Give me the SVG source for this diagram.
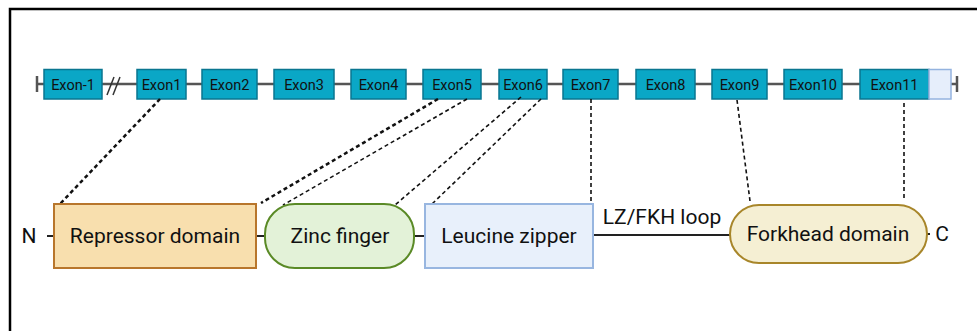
<svg xmlns="http://www.w3.org/2000/svg" width="977" height="331" viewBox="0 0 977 331">
<style>
.exon{fill:#0aa7c6;stroke:#0a7690;stroke-width:1.5}
.et{font-family:Roboto,"Liberation Sans",sans-serif;font-size:14.5px;fill:#111;text-anchor:middle}
.dt{font-family:Roboto,"Liberation Sans",sans-serif;font-size:21px;fill:#111;text-anchor:middle}
.bb{stroke:#555;stroke-width:2.5;fill:none}
.pl{stroke:#222;stroke-width:2;fill:none}
.dthick{stroke:#111;stroke-width:2.5;stroke-dasharray:4 3;fill:none}
.dthin{stroke:#111;stroke-width:1.6;stroke-dasharray:4 3;fill:none}
</style>
<rect width="977" height="331" fill="#fff"/>
<path d="M10 331 V9 H977" fill="none" stroke="#000" stroke-width="2.5"/>

<g id="backbone">
<line class="bb" x1="37" y1="84" x2="957" y2="84"/>
<line class="bb" x1="37" y1="76" x2="37" y2="92"/>
<line class="bb" x1="957" y1="76" x2="957" y2="92"/>
<line x1="107" y1="95" x2="114" y2="77" stroke="#333" stroke-width="1.5"/>
<line x1="113" y1="95" x2="120" y2="77" stroke="#333" stroke-width="1.5"/>
</g>

<g id="exon-m1"><rect class="exon" x="44" y="69.5" width="58" height="29.5"/><text class="et" x="73" y="89.5">Exon-1</text></g>
<g id="exon1"><rect class="exon" x="137" y="69.5" width="49" height="29.5"/><text class="et" x="161.5" y="89.5">Exon1</text></g>
<g id="exon2"><rect class="exon" x="202" y="69.5" width="55" height="29.5"/><text class="et" x="229.5" y="89.5">Exon2</text></g>
<g id="exon3"><rect class="exon" x="274" y="69.5" width="60" height="29.5"/><text class="et" x="304" y="89.5">Exon3</text></g>
<g id="exon4"><rect class="exon" x="351" y="69.5" width="55" height="29.5"/><text class="et" x="378.5" y="89.5">Exon4</text></g>
<g id="exon5"><rect class="exon" x="423" y="69.5" width="58" height="29.5"/><text class="et" x="452" y="89.5">Exon5</text></g>
<g id="exon6"><rect class="exon" x="499" y="69.5" width="48" height="29.5"/><text class="et" x="523" y="89.5">Exon6</text></g>
<g id="exon7"><rect class="exon" x="563" y="69.5" width="55" height="29.5"/><text class="et" x="590.5" y="89.5">Exon7</text></g>
<g id="exon8"><rect class="exon" x="636" y="69.5" width="59" height="29.5"/><text class="et" x="665.5" y="89.5">Exon8</text></g>
<g id="exon9"><rect class="exon" x="712" y="69.5" width="55" height="29.5"/><text class="et" x="739.5" y="89.5">Exon9</text></g>
<g id="exon10"><rect class="exon" x="784" y="69.5" width="58" height="29.5"/><text class="et" x="813" y="89.5">Exon10</text></g>
<g id="exon11"><rect class="exon" x="860" y="69.5" width="69" height="29.5"/><text class="et" x="894.5" y="89.5">Exon11</text></g>
<g id="utr"><rect x="929" y="69.5" width="22" height="29.5" fill="#e6eefb" stroke="#94b3df" stroke-width="1.5"/></g>

<g id="protein-line">
<line class="pl" x1="47" y1="236" x2="54" y2="236"/>
<line class="pl" x1="256" y1="236" x2="266" y2="236"/>
<line class="pl" x1="414" y1="236" x2="425" y2="236"/>
<line class="pl" x1="593" y1="235" x2="730" y2="235"/>
<line class="pl" x1="927" y1="234" x2="930" y2="234"/>
</g>

<g id="connectors">
<line class="dthick" x1="160" y1="99" x2="59" y2="205"/>
<line class="dthick" x1="438" y1="99" x2="261" y2="203"/>
<line class="dthin" x1="467" y1="99" x2="283" y2="205"/>
<line class="dthin" x1="521" y1="97" x2="395" y2="205"/>
<line class="dthin" x1="541" y1="99" x2="432" y2="204"/>
<line class="dthin" x1="591" y1="99" x2="591" y2="204" stroke-width="2"/>
<line class="dthin" x1="737" y1="100" x2="750" y2="201"/>
<line class="dthin" x1="904" y1="103" x2="904" y2="200"/>
</g>

<g id="label-N"><text class="dt" x="29" y="243">N</text></g>
<g id="repressor"><rect x="54" y="204" width="202" height="64" fill="#f8dfae" stroke="#b8762c" stroke-width="2"/><text class="dt" x="155" y="243">Repressor domain</text></g>
<g id="zinc"><rect x="265" y="204" width="149" height="64" rx="30" fill="#e3f2d8" stroke="#5a8a26" stroke-width="2"/><text class="dt" x="340" y="243">Zinc finger</text></g>
<g id="leucine"><rect x="425" y="204" width="168" height="64" fill="#e8f0fb" stroke="#98b6e0" stroke-width="2"/><text class="dt" x="509" y="243">Leucine zipper</text></g>
<g id="loop-label"><text class="dt" x="662" y="224">LZ/FKH loop</text></g>
<g id="forkhead"><rect x="730" y="205" width="197" height="58" rx="29" fill="#f5efd3" stroke="#a8862a" stroke-width="2"/><text class="dt" x="828" y="241">Forkhead domain</text></g>
<g id="label-C"><text class="dt" x="942" y="241">C</text></g>
</svg>
